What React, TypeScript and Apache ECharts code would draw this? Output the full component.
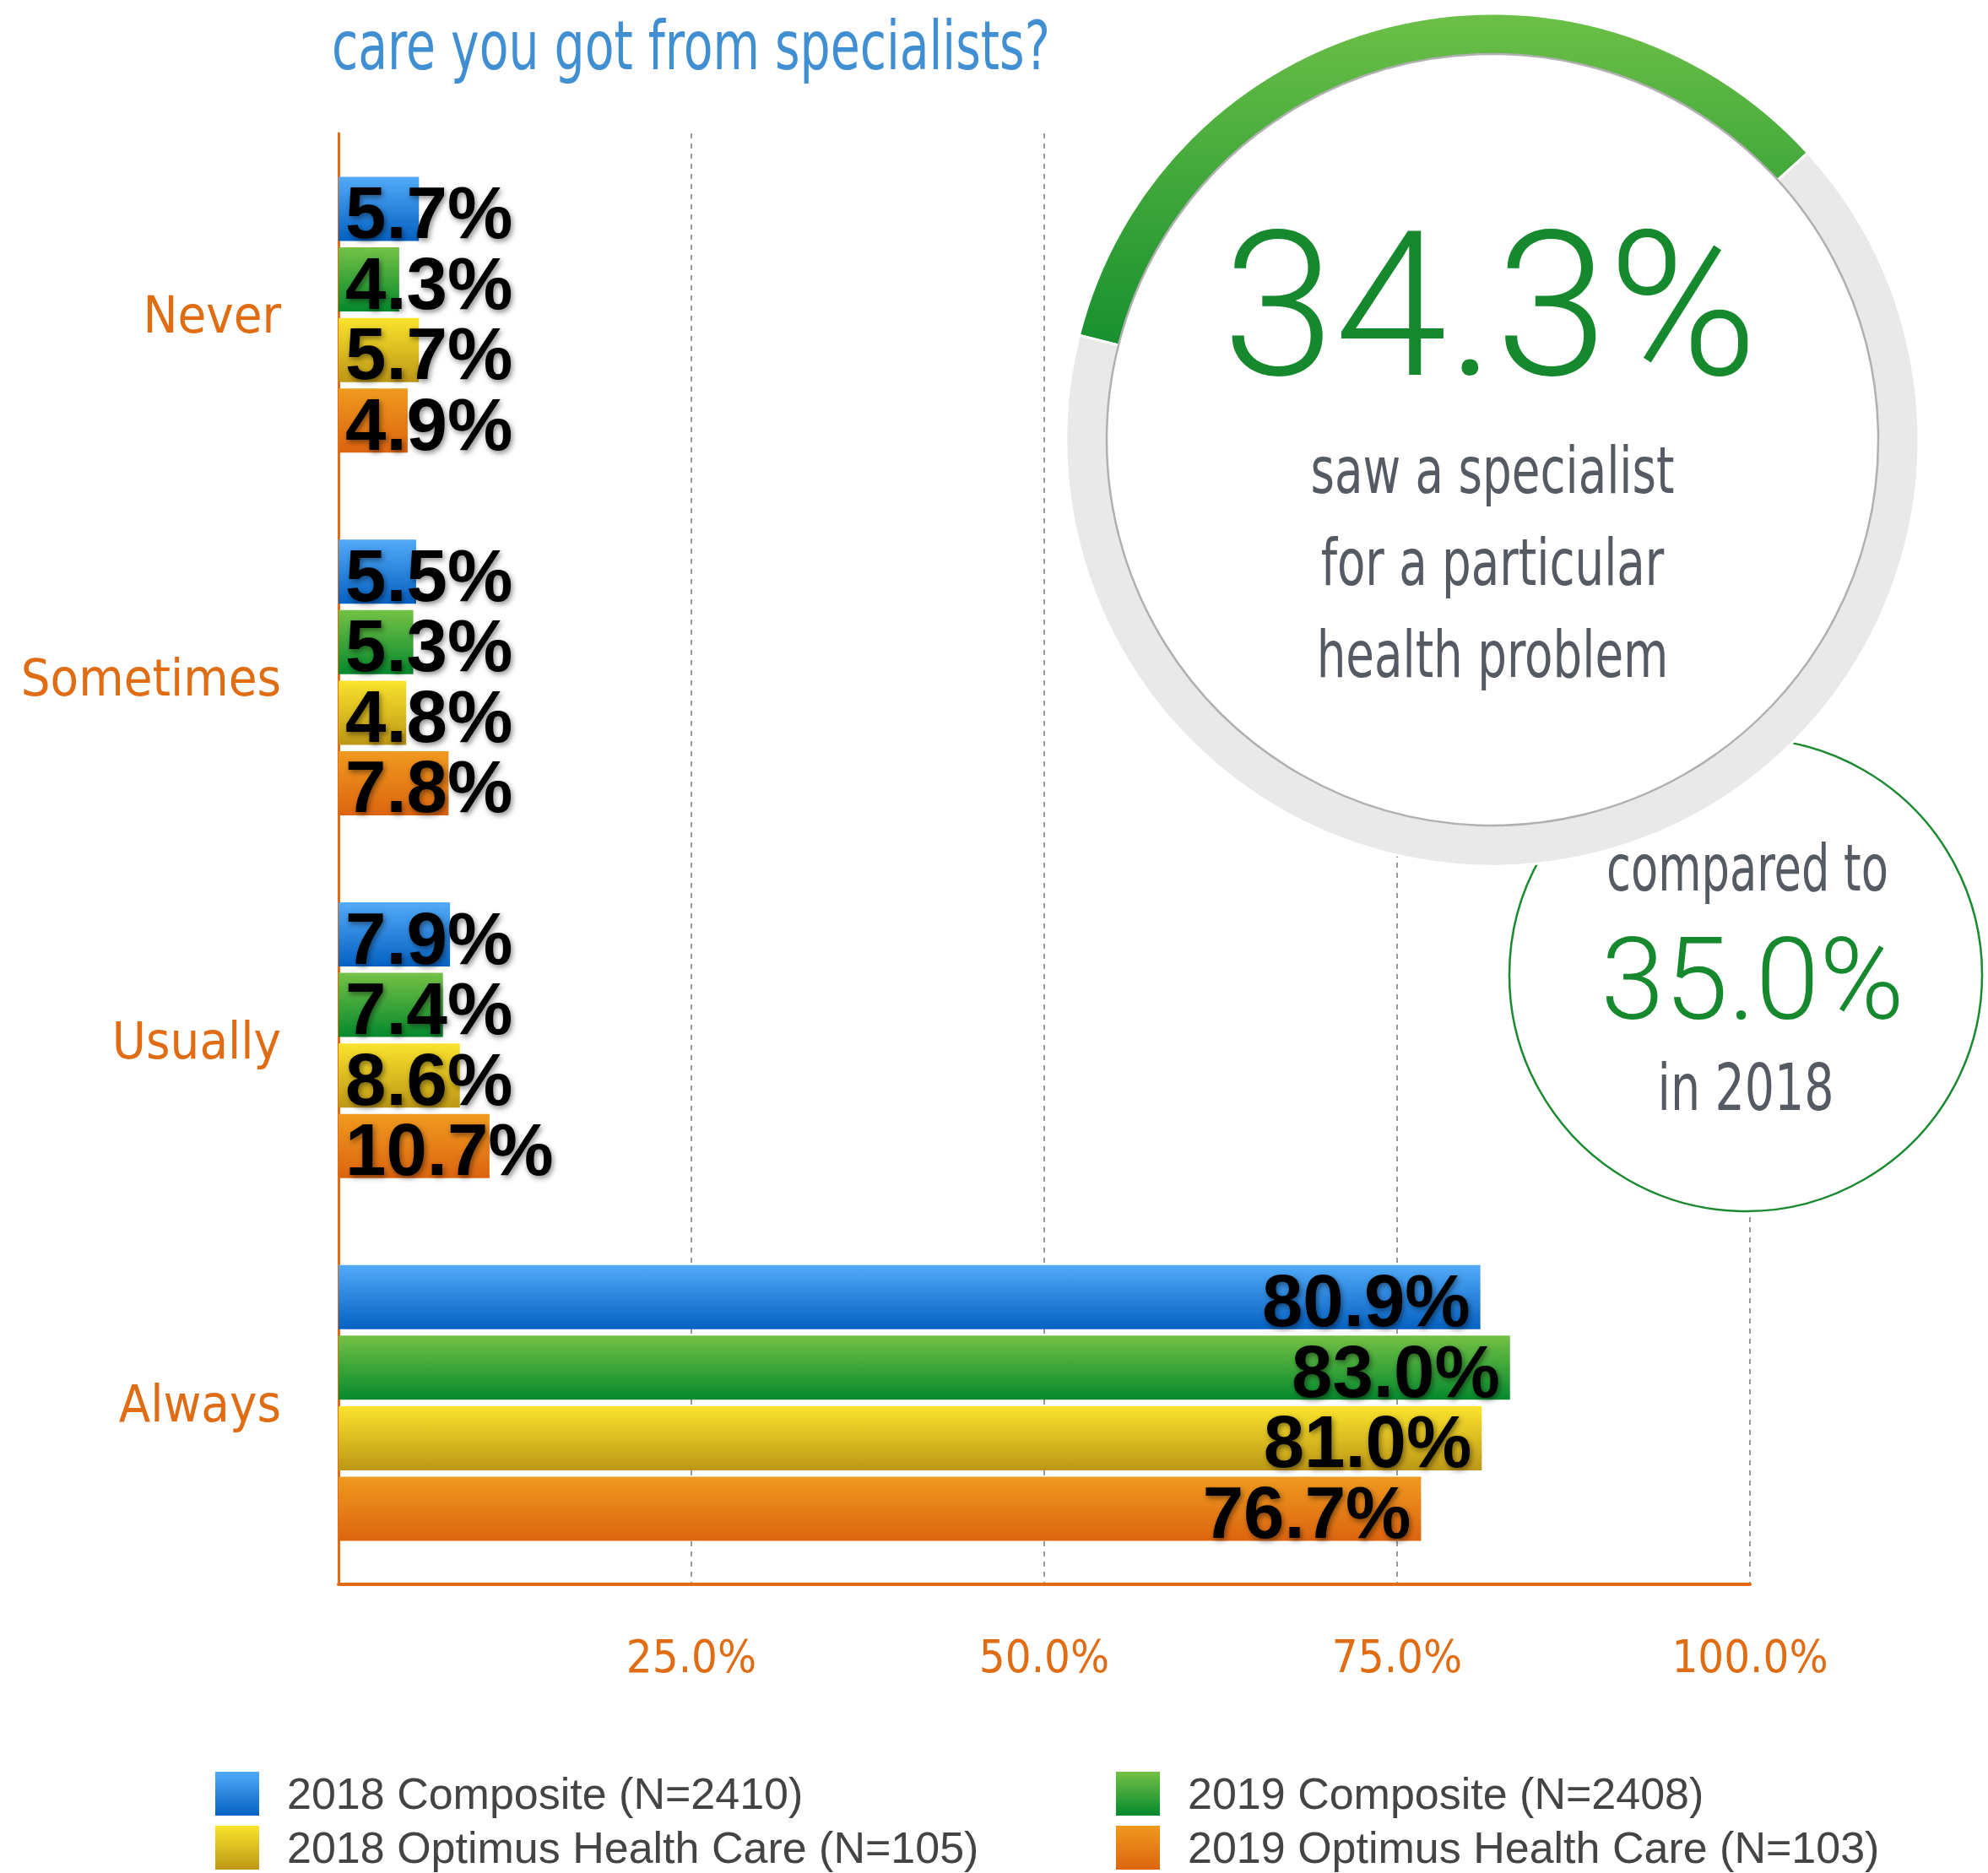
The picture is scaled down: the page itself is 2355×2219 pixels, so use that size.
import React, { useEffect, useRef } from "react";
import * as echarts from "echarts";

const categories = ["Never", "Sometimes", "Usually", "Always"];
const seriesNames = [
  "2018 Composite (N=2410)",
  "2019 Composite (N=2408)",
  "2018 Optimus Health Care (N=105)",
  "2019 Optimus Health Care (N=103)",
];
const composite2018 = [5.7, 5.5, 7.9, 80.9];
const composite2019 = [4.3, 5.3, 7.4, 83.0];
const optimus2018 = [5.7, 4.8, 8.6, 81.0];
const optimus2019 = [4.9, 7.8, 10.7, 76.7];
const xMin = 0;
const xMax = 100;
const xInterval = 25;

const sawSpecialist2019 = 34.3;
const sawSpecialist2018 = 35.0;

const titleText = "care you got from specialists?";
const bigCircleLines = ["saw a specialist", "for a particular", "health problem"];
const smallCircleTop = "compared to";
const smallCircleBottom = "in 2018";

const NARROW = "'Liberation Sans Narrow', 'DejaVu Sans Condensed', 'Open Sans', sans-serif";
const SANS = "'Liberation Sans', Arial, Helvetica, sans-serif";
const THIN = "Roboto, Lato, 'Open Sans', sans-serif";
const ORANGE = "#e06c14";
const GREEN_TEXT = "#16892f";
const GRAY_TEXT = "#555a63";

const grad = (top: string, bottom: string) =>
  new echarts.graphic.LinearGradient(0, 0, 0, 1, [
    { offset: 0, color: top },
    { offset: 1, color: bottom },
  ]);

const seriesColors = [
  ["#52aaf8", "#0561c2"],
  ["#74c145", "#05892d"],
  ["#fae32c", "#bd9716"],
  ["#f09a1f", "#dc640f"],
];
const seriesValues = [composite2018, composite2019, optimus2018, optimus2019];

// legend placement: [left, top] for each series name
const legendSpots = [
  [255, 2099],
  [1322, 2099],
  [255, 2163],
  [1322, 2163],
];

export default function App() {
  const ref = useRef<HTMLDivElement>(null);
  useEffect(() => {
    if (!ref.current) return;
    const chart = echarts.init(ref.current, null, { renderer: "svg" });

    const barSeries = seriesValues.map((vals, i) => ({
      type: "bar",
      name: seriesNames[i],
      barCategoryGap: "24%",
      barGap: "10%",
      z: 2,
      itemStyle: { color: grad(seriesColors[i][0], seriesColors[i][1]) },
      data: vals.map((v) => ({
        value: v,
        label: {
          position: v > 40 ? "insideRight" : "insideLeft",
          distance: v > 40 ? 12 : 8,
        },
      })),
      label: {
        show: true,
        formatter: (p: any) => Number(p.value).toFixed(1) + "%",
        color: "#000",
        fontFamily: SANS,
        fontWeight: "bold",
        fontSize: 87,
        lineHeight: 70,
        offset: [0, 4],
        textShadowColor: "rgba(0,0,0,0.45)",
        textShadowBlur: 6,
        textShadowOffsetX: 2,
        textShadowOffsetY: 3,
      },
      silent: true,
    }));

    const cx = 1768;
    const cy = 521;
    const scx = 2068;
    const scy = 1155;

    const condensedText = (text: string, x: number, y: number, font: string, fill: string, sx: number) => ({
      type: "text",
      z: 12,
      x,
      y,
      scaleX: sx,
      style: { text, fill, font, align: "center", verticalAlign: "middle" },
    });

    const option: any = {
      animation: false,
      backgroundColor: "#ffffff",
      grid: {
        left: 401,
        top: 158,
        width: 1672,
        height: 1719,
        containLabel: false,
        outerBoundsMode: "none",
      },
      xAxis: {
        type: "value",
        min: xMin,
        max: xMax,
        interval: xInterval,
        axisLine: { show: true, lineStyle: { color: ORANGE, width: 4 } },
        axisTick: { show: false },
        axisLabel: {
          formatter: (v: number) => (v === 0 ? "" : v.toFixed(1) + "%"),
          color: ORANGE,
          fontSize: 54,
          fontFamily: NARROW,
          margin: 58,
        },
        splitLine: { show: true, lineStyle: { color: "#9a9a9a", width: 2, type: [6, 6] } },
      },
      yAxis: {
        type: "category",
        data: categories,
        inverse: true,
        axisLine: { show: true, lineStyle: { color: ORANGE, width: 3 } },
        axisTick: { show: false },
        axisLabel: {
          color: ORANGE,
          fontSize: 61,
          fontFamily: NARROW,
          margin: 68,
        },
        splitLine: { show: false },
      },
      legend: seriesNames.map((name, i) => ({
        orient: "horizontal",
        left: legendSpots[i][0],
        top: legendSpots[i][1],
        padding: 0,
        itemWidth: 52,
        itemHeight: 52,
        icon: "rect",
        data: [name],
        textStyle: { fontSize: 52, color: "#444444", fontFamily: SANS, padding: [0, 0, 0, 28] },
        selectedMode: false,
      })),
      series: [
        ...barSeries,
        {
          type: "pie",
          name: "ring",
          center: [cx, cy],
          radius: [455, 505],
          startAngle: 165.8,
          clockwise: true,
          silent: true,
          z: 10,
          label: { show: false },
          labelLine: { show: false },
          itemStyle: { borderColor: "#ffffff", borderWidth: 3 },
          data: [
            { value: sawSpecialist2019, name: "saw", itemStyle: { color: grad("#6cc047", "#17902f") } },
            { value: 100 - sawSpecialist2019, name: "rest", itemStyle: { color: "#e9e9e9" } },
          ],
        },
      ],
      graphic: [
        {
          type: "text",
          z: 20,
          x: 393,
          y: 14,
          scaleX: 0.79,
          style: { text: titleText, fill: "#408fd3", font: `80px ${NARROW}`, align: "left", verticalAlign: "top" },
        },
        {
          type: "circle",
          z: 5,
          shape: { cx: scx, cy: scy, r: 280 },
          style: { fill: "#ffffff", stroke: "#1a8a30", lineWidth: 2.5 },
        },
        {
          type: "circle",
          z: 11,
          shape: { cx, cy, r: 457 },
          style: { fill: "#ffffff", stroke: "#b0b0b0", lineWidth: 2.5 },
        },
        {
          type: "text",
          z: 12,
          x: cx - 3,
          y: 362,
          style: {
            text: sawSpecialist2019.toFixed(1) + "%",
            fill: GREEN_TEXT,
            font: `300 240px ${THIN}`,
            align: "center",
            verticalAlign: "middle",
          },
        },
        ...bigCircleLines.map((t, i) => condensedText(t, cx, 557 + i * 109, `76px ${NARROW}`, GRAY_TEXT, 0.8)),
        condensedText(smallCircleTop, scx + 2, 1029, `76px ${NARROW}`, GRAY_TEXT, 0.77),
        {
          type: "text",
          z: 12,
          x: scx + 8,
          y: 1160,
          style: {
            text: sawSpecialist2018.toFixed(1) + "%",
            fill: GREEN_TEXT,
            font: `300 136px ${THIN}`,
            align: "center",
            verticalAlign: "middle",
          },
        },
        condensedText(smallCircleBottom, scx, 1289, `76px ${NARROW}`, GRAY_TEXT, 0.81),
      ],
    };

    chart.setOption(option);
    return () => chart.dispose();
  }, []);

  return (
    <div
      ref={ref}
      style={{ position: "fixed", left: 0, top: 0, width: 2355, height: 2219, background: "#fff" }}
    />
  );
}
